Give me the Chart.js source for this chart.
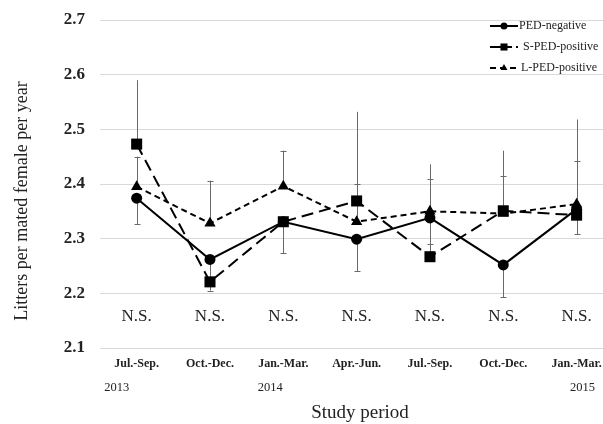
<!DOCTYPE html>
<html lang="en">

<head>
    <meta charset="utf-8">
    <style>
        body { margin: 0; background: #fff; overflow: hidden; }
    </style>
</head>

<body>
    <canvas id="LitterChart" width="603" height="424"></canvas>

    <script src="https://cdn.jsdelivr.net/npm/chart.js"></script>

    <script>
        // Chart data
        const periods = ['Jul.-Sep.', 'Oct.-Dec.', 'Jan.-Mar.', 'Apr.-Jun.', 'Jul.-Sep.', 'Oct.-Dec.', 'Jan.-Mar.'];
        const years = ['2013', '', '2014', '', '', '', '2015'];
        const significance = ['N.S.', 'N.S.', 'N.S.', 'N.S.', 'N.S.', 'N.S.', 'N.S.'];
        const yTicks = [2.1, 2.2, 2.3, 2.4, 2.5, 2.6, 2.7];

        const pedNegative = [2.374, 2.262, 2.331, 2.299, 2.338, 2.252, 2.354];
        const sPedPositive = [2.473, 2.221, 2.331, 2.369, 2.267, 2.351, 2.343];
        const lPedPositive = [2.395, 2.328, 2.396, 2.331, 2.350, 2.346, 2.363];

        // Error bar ends (value scale), null = not visible
        const pedNegativeLow = [2.327, 2.205, 2.273, 2.241, 2.291, 2.193, 2.308];
        const sPedPositiveHigh = [2.590, null, null, 2.532, 2.436, 2.461, 2.518];
        const lPedPositiveHigh = [2.450, 2.406, 2.461, 2.400, 2.409, 2.415, 2.442];

        const serif = "'Liberation Serif', 'Times New Roman', serif";

        // Error bars drawn under the lines
        const errorBars = {
            id: 'errorBars',
            beforeDatasetsDraw(chart) {
                const { ctx, scales: { x, y } } = chart;
                ctx.save();
                ctx.strokeStyle = '#6a6a6a';
                ctx.lineWidth = 1;
                chart.data.datasets.forEach(ds => {
                    ds.errEnds.forEach((end, i) => {
                        if (end === null) return;
                        const px = Math.round(x.getPixelForValue(i)) + 0.5;
                        const y0 = y.getPixelForValue(ds.values[i]);
                        const y1 = y.getPixelForValue(end);
                        ctx.beginPath();
                        ctx.moveTo(px, y0);
                        ctx.lineTo(px, y1);
                        if (ds.errCap) {
                            ctx.moveTo(px - 3, Math.round(y1) + 0.5);
                            ctx.lineTo(px + 3, Math.round(y1) + 0.5);
                        }
                        ctx.stroke();
                    });
                });
                ctx.restore();
            }
        };

        // Extra texts: N.S., years, axis titles, legend
        const extraText = {
            id: 'extraText',
            afterDraw(chart) {
                const { ctx, scales: { x, y } } = chart;
                ctx.save();
                ctx.fillStyle = '#222';
                ctx.textBaseline = 'middle';
                ctx.textAlign = 'center';

                ctx.font = '17px ' + serif;
                significance.forEach((t, i) => {
                    ctx.fillText(t, x.getPixelForValue(i), y.getPixelForValue(2.158));
                });

                const yearShift = [-20, 0, -13, 0, 0, 0, 6];
                ctx.font = '12.5px ' + serif;
                years.forEach((t, i) => {
                    if (t) ctx.fillText(t, x.getPixelForValue(i) + yearShift[i], 388);
                });

                ctx.font = '19px ' + serif;
                ctx.fillText('Study period', 360, 413);

                ctx.save();
                ctx.translate(22, 201);
                ctx.rotate(-Math.PI / 2);
                ctx.font = '18px ' + serif;
                ctx.fillText('Litters per mated female per year', 0, 0);
                ctx.restore();

                // Legend
                ctx.textAlign = 'left';
                ctx.font = '12px ' + serif;
                chart.data.datasets.forEach((ds, i) => {
                    const ly = 26 + i * 21;
                    ctx.save();
                    ctx.strokeStyle = '#000';
                    ctx.lineWidth = 2;
                    ctx.setLineDash(ds.legendDash);
                    ctx.beginPath();
                    ctx.moveTo(490, ly);
                    ctx.lineTo(518, ly);
                    ctx.stroke();
                    ctx.restore();
                    ctx.fillStyle = '#000';
                    Chart.helpers.drawPoint(ctx, {
                        pointStyle: ds.pointStyle,
                        radius: ds.legendRadius,
                        rotation: 0,
                        borderWidth: 0
                    }, 504, ly);
                    ctx.fillStyle = '#222';
                    ctx.fillText(ds.label, ds.legendText, ly);
                });
                ctx.restore();
            }
        };

        const ctx = document.getElementById('LitterChart').getContext('2d');
        const myChart = new Chart(ctx, {
            type: 'line',
            data: {
                datasets: [{
                    label: 'PED-negative',
                    values: pedNegative,
                    errEnds: pedNegativeLow,
                    errCap: true,
                    borderDash: [],
                    legendDash: [],
                    pointStyle: 'circle',
                    pointRadius: 5.5,
                    legendRadius: 3.5,
                    legendText: 519
                }, {
                    label: 'S-PED-positive',
                    values: sPedPositive,
                    errEnds: sPedPositiveHigh,
                    errCap: false,
                    borderDash: [12, 6],
                    legendDash: [22, 4, 2, 10],
                    pointStyle: 'rect',
                    pointRadius: 7.8,
                    legendRadius: 5,
                    legendText: 523
                }, {
                    label: 'L-PED-positive',
                    values: lPedPositive,
                    errEnds: lPedPositiveHigh,
                    errCap: true,
                    borderDash: [6, 4],
                    legendDash: [6, 4],
                    pointStyle: 'triangle',
                    pointRadius: 6.5,
                    legendRadius: 4,
                    legendText: 521
                }].map(ds => Object.assign(ds, {
                    data: ds.values.map((v, i) => ({ x: i, y: v })),
                    borderColor: '#000',
                    backgroundColor: '#000',
                    pointBackgroundColor: '#000',
                    pointBorderWidth: 0,
                    borderWidth: 2,
                    tension: 0,
                    fill: false
                }))
            },
            options: {
                responsive: false,
                animation: false,
                events: [],
                layout: {
                    autoPadding: false,
                    padding: { top: 20, right: 0, left: 0, bottom: 0 }
                },
                plugins: {
                    legend: { display: false },
                    tooltip: { enabled: false }
                },
                scales: {
                    x: {
                        type: 'linear',
                        min: -0.5,
                        max: 6.36,
                        afterFit: scale => {
                            scale.height = 76;
                            scale.paddingLeft = 0;
                            scale.paddingRight = 0;
                        },
                        afterBuildTicks: scale => {
                            scale.ticks = periods.map((p, i) => ({ value: i }));
                        },
                        grid: { display: false, drawTicks: false },
                        border: { display: false },
                        ticks: {
                            autoSkip: false,
                            maxRotation: 0,
                            padding: 9,
                            color: '#222',
                            font: { family: serif, size: 12, weight: 'bold' },
                            callback: value => periods[value]
                        }
                    },
                    y: {
                        min: 2.1,
                        max: 2.7,
                        afterFit: scale => {
                            scale.width = 100;
                            scale.paddingTop = 0;
                            scale.paddingBottom = 0;
                        },
                        afterBuildTicks: scale => {
                            scale.ticks = yTicks.map(v => ({ value: v }));
                        },
                        grid: { color: '#d9d9d9', lineWidth: 1, drawTicks: false },
                        border: { display: false },
                        ticks: {
                            padding: 15,
                            color: '#222',
                            font: { family: serif, size: 17, weight: 'bold' },
                            callback: value => value.toFixed(1)
                        }
                    }
                }
            },
            plugins: [errorBars, extraText]
        });
    </script>

</body>

</html>
